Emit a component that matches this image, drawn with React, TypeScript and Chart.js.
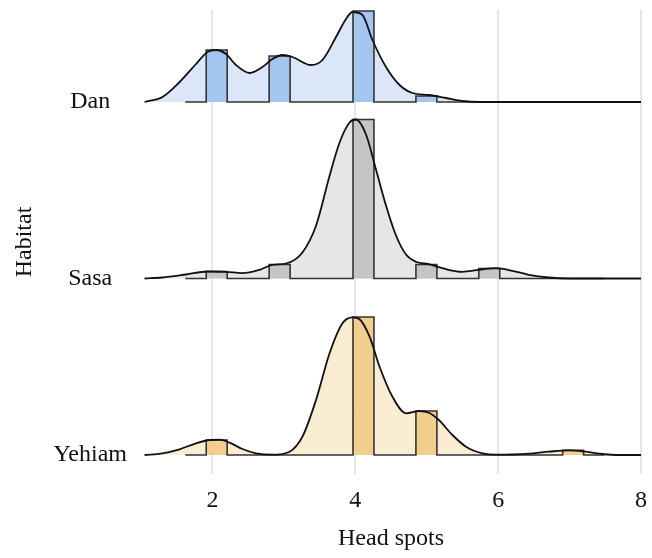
import React, { useEffect, useRef } from "react";
import { Chart, registerables } from "chart.js";

Chart.register(...registerables);

// Ridge names (bottom to top)
const habitats = ["Yehiam", "Sasa", "Dan"];

// Density curves (x = head spots, y = scaled density height)
const danX = [1.05, 1.3, 1.54, 1.77, 1.93, 2.05, 2.19, 2.33, 2.52, 2.7, 2.84, 2.98, 3.12, 3.38, 3.54, 3.73, 3.87, 3.96, 4.1, 4.24, 4.43, 4.62, 4.8, 5.03, 5.27, 5.5, 5.75, 8.0];
const danY = [0, 5, 20, 38, 50, 52, 48, 37, 29, 35, 43, 47, 45, 37, 42, 65, 83, 90, 87, 62, 35, 17, 9, 7, 4, 1, 0, 0];

const sasaX = [1.05, 1.3, 1.63, 1.93, 2.19, 2.42, 2.66, 2.84, 3.03, 3.26, 3.45, 3.64, 3.78, 3.92, 4.01, 4.15, 4.29, 4.43, 4.57, 4.71, 4.85, 5.03, 5.27, 5.5, 5.73, 5.97, 6.2, 6.43, 6.71, 7.0, 8.0];
const sasaY = [0, 1, 4, 7, 6.7, 5.3, 8.7, 13.7, 15, 26, 52.7, 102.7, 136, 156, 159, 144, 109, 73, 43, 24, 16.7, 14.3, 9.3, 6.7, 8.7, 10.3, 7.7, 3.7, 1, 0, 0];

const yehiamX = [1.05, 1.3, 1.54, 1.77, 1.96, 2.1, 2.24, 2.42, 2.61, 2.84, 3.08, 3.26, 3.45, 3.64, 3.82, 3.96, 4.06, 4.2, 4.34, 4.52, 4.71, 4.9, 5.03, 5.17, 5.36, 5.55, 5.78, 5.97, 6.2, 6.43, 6.71, 6.99, 7.23, 7.46, 7.69, 8.0];
const yehiamY = [0, 1.7, 5.7, 11.7, 15, 15.3, 12.3, 6, 1.7, 0.3, 3.3, 18.3, 55, 101.7, 131.7, 137.7, 135.7, 118.3, 88.3, 58.3, 41.7, 44, 42.3, 35, 20, 8.3, 1.7, 0.3, 0.5, 1.3, 3.3, 4.7, 3.3, 1, 0, 0];

// Histogram bins (head spots 2..7)
const spotValues = [2, 3, 4, 5, 6, 7];
const binLefts = [1.913, 2.794, 3.968, 4.849, 5.729, 6.903];
const binWidth = 0.2935;
const histStart = 1.62;
const histEnd = 7.49;
const danHist = [52, 46, 91, 6, 0, 0];
const sasaHist = [7, 14, 159, 14, 10, 0];
const yehiamHist = [15, 0, 138, 44, 0, 4.7];

// x-axis ticks
const xTicks = [2, 4, 6, 8];

const ridgeSpacing = 176.5;

const palette = [
  { dens: "#faecd3", bar: "#f1cd8e" },
  { dens: "#e6e6e6", bar: "#c5c5c5" },
  { dens: "#dbe7f8", bar: "#a3c5f0" },
];

export default function App() {
  const ref = useRef<HTMLCanvasElement | null>(null);

  useEffect(() => {
    if (!ref.current) return;
    const curves = [
      { x: yehiamX, y: yehiamY, h: yehiamHist },
      { x: sasaX, y: sasaY, h: sasaHist },
      { x: danX, y: danY, h: danHist },
    ];
    const datasets: any[] = [];
    curves.forEach((c, i) => {
      const base = i * ridgeSpacing;
      const dens = c.x.map((xv, k) => ({ x: xv, y: base + c.y[k] }));
      const hist: { x: number; y: number }[] = [{ x: histStart, y: base }];
      spotValues.forEach((_, k) => {
        if (c.h[k] > 0) {
          hist.push({ x: binLefts[k], y: base + c.h[k] });
          hist.push({ x: binLefts[k] + binWidth, y: base });
        }
      });
      hist.push({ x: histEnd, y: base });
      datasets.push({
        label: habitats[i] + " density fill",
        data: dens,
        borderWidth: 0,
        borderColor: "rgba(0,0,0,0)",
        backgroundColor: palette[i].dens,
        fill: { value: base },
        pointRadius: 0,
        cubicInterpolationMode: "monotone",
        order: 20 - i * 3,
      });
      datasets.push({
        label: habitats[i] + " histogram",
        data: hist,
        stepped: "before",
        borderWidth: 1.6,
        borderColor: "#333333",
        backgroundColor: palette[i].bar,
        fill: { value: base },
        pointRadius: 0,
        order: 19 - i * 3,
      });
      datasets.push({
        label: habitats[i] + " density",
        data: dens,
        borderWidth: 1.8,
        borderColor: "#111111",
        fill: false,
        pointRadius: 0,
        cubicInterpolationMode: "monotone",
        order: 18 - i * 3,
      });
    });

    const font = { family: "'Liberation Serif', 'Times New Roman', serif", size: 24 };
    const chart = new Chart(ref.current, {
      type: "line",
      data: { datasets },
      options: {
        animation: false,
        responsive: false,
        devicePixelRatio: 1,
        layout: { padding: { left: 0, top: 10, right: 11, bottom: 0 } },
        plugins: { legend: { display: false }, tooltip: { enabled: false } },
        scales: {
          x: {
            type: "linear",
            min: 1,
            max: 8,
            afterBuildTicks: (s: any) => {
              s.ticks = xTicks.map((v) => ({ value: v }));
            },
            afterFit: (s: any) => {
              s.height = 84;
              s.paddingLeft = 0;
              s.paddingRight = 0;
            },
            grid: { color: "#e6e6e6", lineWidth: 2, drawTicks: false },
            border: { display: false },
            ticks: { font, color: "#111", padding: 12 },
            title: { display: true, text: "Head spots", font, color: "#111", padding: { top: 0, bottom: 5 } },
          },
          y: {
            type: "linear",
            min: -19,
            max: 445,
            afterBuildTicks: (s: any) => {
              s.ticks = habitats.map((_, i) => ({ value: i * ridgeSpacing }));
            },
            afterFit: (s: any) => {
              s.width = 141;
              s.paddingTop = 0;
              s.paddingBottom = 0;
            },
            grid: { display: false, drawTicks: false },
            border: { display: false },
            ticks: {
              font,
              color: "#111",
              padding: 14,
              crossAlign: "center",
              callback: (v: any) => {
                const idx = Math.round(Number(v) / ridgeSpacing);
                return habitats[idx] ?? "";
              },
            },
            title: { display: true, text: "Habitat", font, color: "#111", padding: { top: 10.6, bottom: 0 } },
          },
        },
      },
    });
    return () => chart.destroy();
  }, []);

  return (
    <div style={{ position: "absolute", left: 0, top: 0, width: 652, height: 558, background: "#fff" }}>
      <canvas ref={ref} width={652} height={558} />
    </div>
  );
}
